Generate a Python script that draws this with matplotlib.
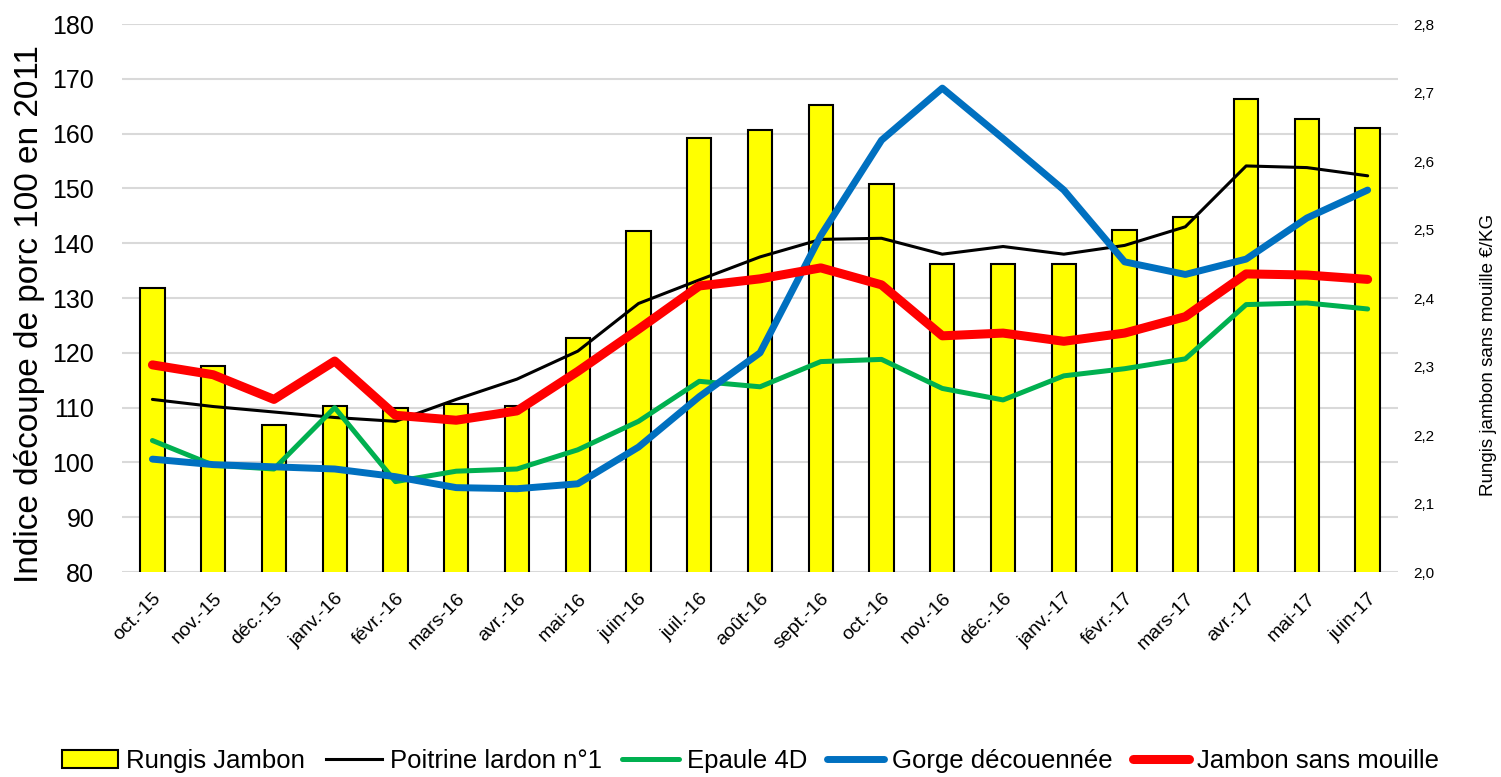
import matplotlib
matplotlib.use("Agg")
import matplotlib.pyplot as plt
from matplotlib.patches import Patch
from matplotlib.lines import Line2D
import numpy as np

plt.rcParams['font.family'] = ['Liberation Sans', 'DejaVu Sans']

months = ["oct.-15", "nov.-15", "déc.-15", "janv.-16", "févr.-16", "mars-16",
          "avr.-16", "mai-16", "juin-16", "juil.-16", "août-16", "sept.-16",
          "oct.-16", "nov.-16", "déc.-16", "janv.-17", "févr.-17", "mars-17",
          "avr.-17", "mai-17", "juin-17"]

# Rungis Jambon, €/KG (right axis)
rungis = [2.415, 2.301, 2.214, 2.243, 2.240, 2.245, 2.243, 2.342, 2.498, 2.633,
          2.646, 2.682, 2.566, 2.450, 2.450, 2.450, 2.500, 2.518, 2.690, 2.662, 2.648]

# indices, 100 en 2011 (left axis)
poitrine = [111.5, 110.2, 109.2, 108.2, 107.5, 111.5, 115.2, 120.3, 129.0, 133.3,
            137.5, 140.7, 140.9, 138.0, 139.4, 138.0, 139.6, 143.0, 154.1, 153.8, 152.3]
epaule = [104.0, 99.5, 98.8, 110.0, 96.5, 98.4, 98.8, 102.3, 107.5, 114.8,
          113.8, 118.4, 118.8, 113.5, 111.4, 115.8, 117.1, 118.9, 128.8, 129.1, 128.0]
gorge = [100.6, 99.6, 99.2, 98.8, 97.4, 95.4, 95.2, 96.1, 102.8, 112.0,
         120.0, 141.4, 158.8, 168.3, 159.1, 149.7, 136.6, 134.3, 137.1, 144.6, 149.7]
jambon = [117.8, 116.0, 111.5, 118.5, 108.6, 107.7, 109.4, 116.6, 124.3, 132.2,
          133.5, 135.5, 132.4, 123.1, 123.6, 122.1, 123.6, 126.6, 134.4, 134.2, 133.4]

x = np.arange(len(months))

fig = plt.figure(figsize=(15.01, 7.77), dpi=100)
ax = fig.add_axes([0.0813, 0.2638, 0.8501, 0.7053])
ax2 = ax.twinx()
ax.set_zorder(2)
ax2.set_zorder(1)
ax.patch.set_visible(False)

# bars on right axis
ax2.bar(x, rungis, width=0.4, color="#ffff00", edgecolor="black", linewidth=1.5, zorder=3)
ax2.set_ylim(2.0, 2.8)
rt = np.arange(2.0, 2.81, 0.1)
ax2.set_yticks(rt)
ax2.set_yticklabels([("%.1f" % v).replace(".", ",") for v in rt], fontsize=11)
# gridlines matching the left ticks
ax2.yaxis.remove_overlapping_locs = False
ax2.set_yticks(np.linspace(2.0, 2.8, 11), minor=True)
ax2.yaxis.grid(True, which="minor", color="#d9d9d9", linewidth=1.5, zorder=0)
ax2.yaxis.grid(False, which="major")
ax2.tick_params(axis="y", which="both", length=0, pad=11)
ax2.set_ylabel("Rungis jambon sans mouille €/KG", fontsize=13.5, rotation=90)
ax2.yaxis.set_label_coords(1.064, 0.396)
ax2.set_axisbelow(True)

# lines on left axis
ax.plot(x, poitrine, color="black", lw=2.2, solid_capstyle="round")
ax.plot(x, epaule, color="#00b050", lw=3.6, solid_capstyle="round")
ax.plot(x, gorge, color="#0070c0", lw=5, solid_capstyle="round")
ax.plot(x, jambon, color="#ff0000", lw=6.5, solid_capstyle="round")

ax.set_ylim(80, 180)
ax.set_yticks(np.arange(80, 181, 10))
ax.tick_params(axis="y", labelsize=18, length=0, pad=20)
ax.set_xlim(-0.5, len(months) - 0.5)
ax.set_xticks(x)
ax.set_xticklabels(months, rotation=45, ha="right", rotation_mode="anchor", fontsize=14)
ax.tick_params(axis="x", length=0, pad=13)
ax.set_ylabel("Indice découpe de porc 100 en 2011", fontsize=24)
ax.yaxis.set_label_coords(-0.06, 0.47)

for a in (ax, ax2):
    for s in a.spines.values():
        s.set_visible(False)

handles = [Patch(facecolor="#ffff00", edgecolor="black", linewidth=1.5),
           Line2D([], [], color="black", lw=2.2),
           Line2D([], [], color="#00b050", lw=3.6, solid_capstyle="round"),
           Line2D([], [], color="#0070c0", lw=5, solid_capstyle="round"),
           Line2D([], [], color="#ff0000", lw=6.5, solid_capstyle="round")]
labels = ["Rungis Jambon", "Poitrine lardon n°1", "Epaule 4D", "Gorge découennée", "Jambon sans mouille"]
fig.legend(handles, labels, loc="center", bbox_to_anchor=(0.5, 0.02), ncol=5, frameon=False,
           fontsize=18.5, handlelength=2.2, handletextpad=0.3, columnspacing=0.8)

fig.savefig("out.png", dpi=100)
